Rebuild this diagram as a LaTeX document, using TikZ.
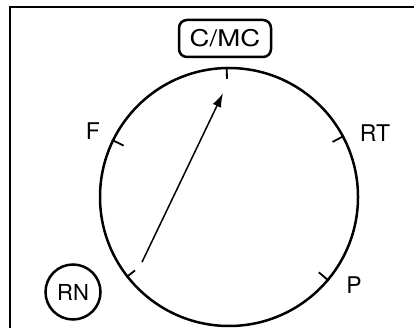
\documentclass[tikz,border=0pt]{standalone}
\usepackage{fontspec}
\usepackage{graphicx}
\setmainfont{TeX Gyre Heros}
\usetikzlibrary{arrows.meta,calc}
\begin{document}
\begin{tikzpicture}[x=1pt,y=1pt,
  lbl/.style={inner sep=0pt,font=\fontsize{23}{26}\selectfont},
  frameline/.style={line width=2.8pt},
  dialline/.style={line width=2.5pt},
  tickline/.style={line width=1.8pt},
  needle/.style={line width=1.5pt,-{Latex[length=14pt,width=9pt]}}]
\useasboundingbox (0,0) rectangle (414,331);
% frame
\coordinate (fl) at (10,3);
\coordinate (ftl) at (10,324);
\coordinate (ftr) at (414,324);
\draw[frameline] (fl) -- (ftl) -- (ftr);
% dial
\node[circle,draw,dialline,minimum size=258pt,inner sep=0pt] (dial) at (229,134) {};
% ticks
\draw[tickline] (dial.91) -- ++(271:12);
\draw[tickline] (dial.154) -- ++(334:13);
\draw[tickline] (dial.28) -- ++(208:13);
\draw[tickline] (dial.-40) -- ++(140:13);
\draw[tickline] (dial.218) -- ++(38:11);
% needle
\coordinate (tail) at ($(dial.center)+(216.8:108.6)$);
\coordinate (tip) at ($(dial.center)+(93.3:104)$);
\draw[needle] (tail) -- (tip);
% labels
\node[draw,dialline,rounded corners=8pt,minimum width=92pt,minimum height=37pt,inner sep=0pt,font=\fontsize{23}{26}\selectfont] (cmc) at (225,292.5) {\scalebox{1.2}[1]{C/MC}};
\node[lbl] (f) at (93,200) {F};
\node[lbl] (rt) at (375,198) {RT};
\node[lbl] (p) at (354,46) {P};
\node[circle,draw,dialline,minimum size=55pt,inner sep=0pt,font=\fontsize{22}{25}\selectfont] (rn) at (73,39) {RN};
\end{tikzpicture}
\end{document}
